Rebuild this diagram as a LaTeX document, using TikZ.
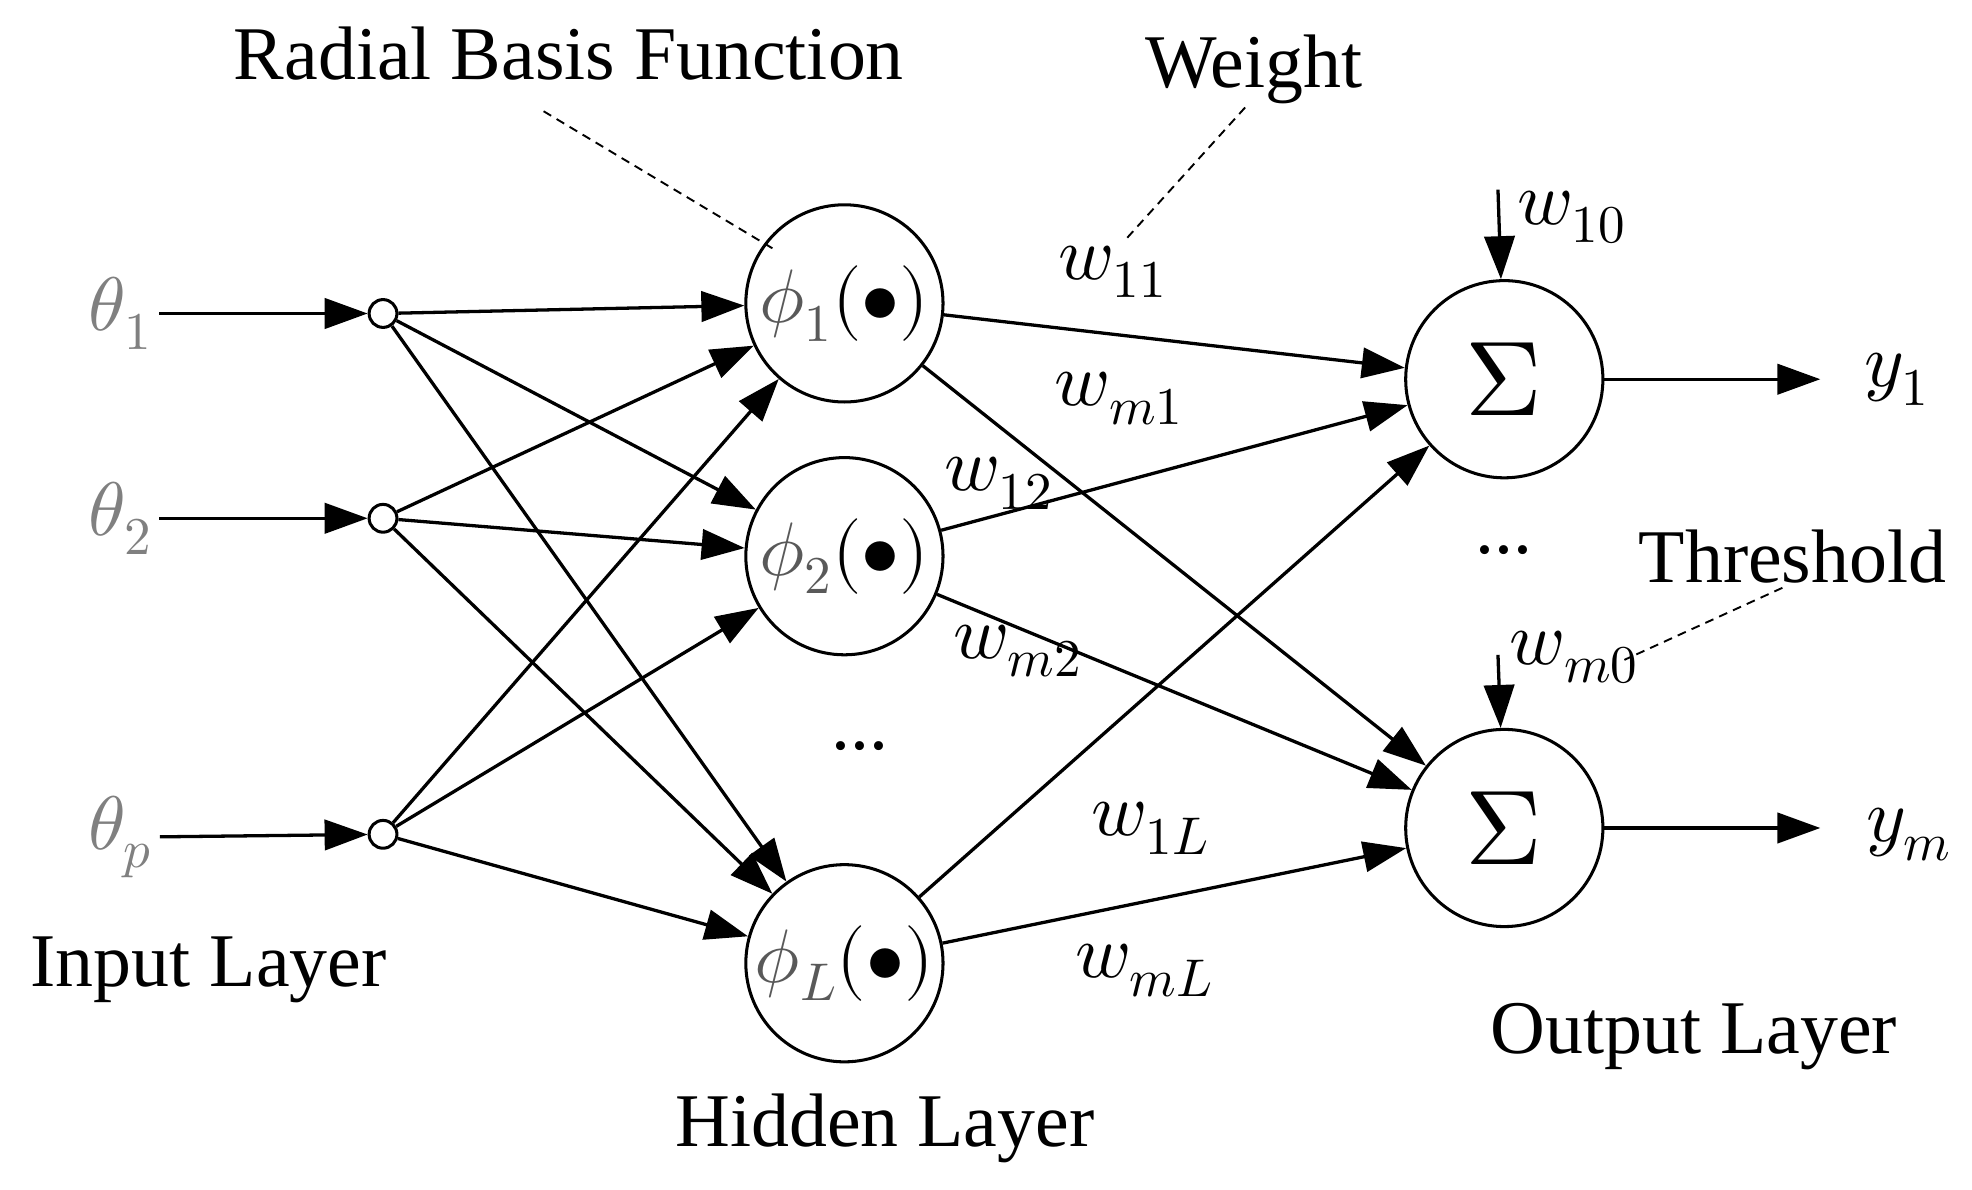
\documentclass[tikz,border=0pt]{standalone}
\usepackage{fontspec}
\setmainfont{Liberation Serif}
\usepackage{unicode-math}
\setmathfont{Latin Modern Math}
\usetikzlibrary{arrows.meta}
\begin{document}
\begin{tikzpicture}[x=1pt,y=-1pt,
  every node/.style={font=\fontsize{60}{66}\selectfont},
  arr/.style={line width=2.6pt,-{Triangle[length=34pt,width=24pt]}},
  big/.style={circle,draw,line width=2.4pt,minimum size=156pt,inner sep=0pt},
  small/.style={circle,draw,line width=2.4pt,minimum size=22pt,inner sep=0pt,fill=white},
  dsh/.style={dash pattern=on 7pt off 5pt,line width=1.5pt},
  lab/.style={inner sep=0pt}]
\useasboundingbox (0,0) rectangle (1560,941);
\node[small] (i1) at (303,248) {};
\node[small] (i2) at (303,410) {};
\node[small] (ip) at (303,660) {};
\node[lab,text=gray] (t1) at (95,248) {$\theta_1$};
\node[lab,text=gray] (t2) at (95,410) {$\theta_2$};
\node[lab,text=gray] (tp) at (95,662) {$\theta_p$};
\foreach \a/\b in {t1/i1,t2/i2,tp/ip} \draw[arr] (\a.east)++(6,0) -- (\b);
\node[big] (h1) at (668,240) {\textcolor{gray!70!black}{$\phi_1$}$(\bullet)$};
\node[big] (h2) at (668,440) {\textcolor{gray!70!black}{$\phi_2$}$(\bullet)$};
\node[big] (hL) at (668,762) {\textcolor{gray!70!black}{$\phi_L$}$(\bullet)$};
\node[big] (o1) at (1190,300) {\scalebox{1.4}{$\Sigma$}};
\node[big] (om) at (1190,655) {\scalebox{1.4}{$\Sigma$}};
\foreach \i in {i1,i2,ip} \foreach \h in {h1,h2,hL} \draw[arr] (\i) -- (\h);
\foreach \h in {h1,h2,hL} \foreach \o in {o1,om} \draw[arr] (\h) -- (\o);
\coordinate (y1a) at (1440,300);
\coordinate (yma) at (1440,655);
\draw[arr] (o1) -- (y1a);
\draw[arr] (om) -- (yma);
\node[lab] (y1) at (1500,300) {$y_1$};
\node[lab] (ym) at (1510,660) {$y_m$};
\coordinate (w10s) at (1185,150);
\coordinate (wm0s) at (1185,518);
\draw[arr] (w10s) -- (o1);
\draw[arr] (wm0s) -- (om);
\node[lab] (w10) at (1243,172) {$w_{10}$};
\node[lab] (wm0) at (1245,520) {$w_{m0}$};
\node[lab] at (680,590) {...};
\node[lab] at (1190,435) {...};
\node[lab] (rbf) at (450,42) {Radial Basis Function};
\node[lab] (wt) at (992,55) {Weight};
\node[lab] (th) at (1418,440) {Threshold};
\coordinate (rbfe) at (612,197);
\coordinate (wte) at (890,190);
\coordinate (the) at (1285,522);
\draw[dsh] (430,88) -- (rbfe);
\draw[dsh] (985,85) -- (wte);
\draw[dsh] (1410,465) -- (the);
\node[lab] at (880,215) {$w_{11}$};
\node[lab] at (885,315) {$w_{m1}$};
\node[lab] at (790,382) {$w_{12}$};
\node[lab] at (805,515) {$w_{m2}$};
\node[lab] at (910,655) {$w_{1L}$};
\node[lab] at (905,768) {$w_{mL}$};
\node[lab] at (165,767) {Input Layer};
\node[lab] at (700,893) {Hidden Layer};
\node[lab] at (1340,820) {Output Layer};
\end{tikzpicture}
\end{document}
